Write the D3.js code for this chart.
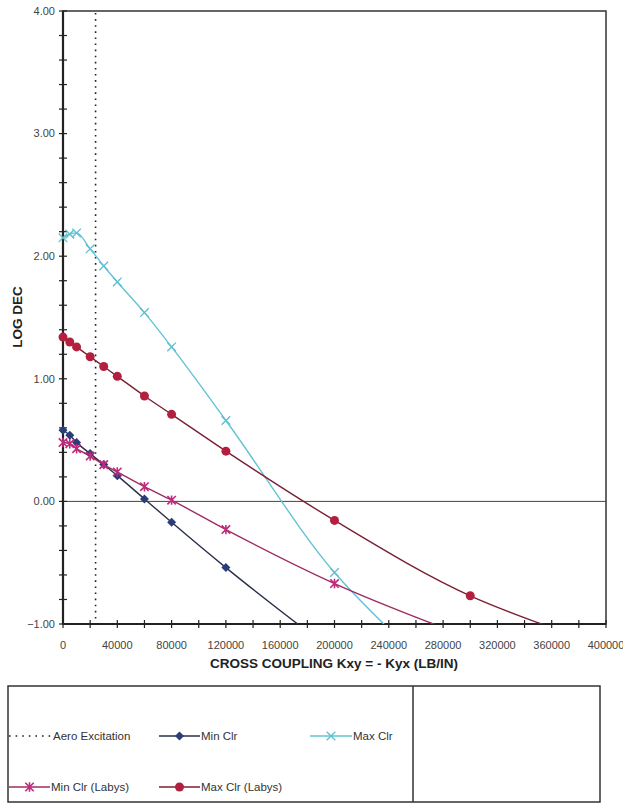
<!DOCTYPE html>
<html>
<head>
<meta charset="utf-8">
<script src="https://cdn.jsdelivr.net/npm/d3@7"></script>
<style>
  html, body { margin: 0; padding: 0; background: #fff; }
  svg { display: block; font-family: "Liberation Sans", Arial, sans-serif; }
</style>
</head>
<body>
<svg id="chart" width="623" height="804"></svg>
<script>
// ---- data ----
const aeroExcitationX = 24000;
const minClrX = [0, 5000, 10000, 20000, 30000, 40000, 60000, 80000, 120000, 200000];
const minClrY = [0.58, 0.54, 0.48, 0.39, 0.30, 0.21, 0.02, -0.17, -0.54, -1.23];
const maxClrX = [0, 5000, 10000, 20000, 30000, 40000, 60000, 80000, 120000, 200000, 240000];
const maxClrY = [2.15, 2.18, 2.19, 2.06, 1.92, 1.79, 1.54, 1.26, 0.66, -0.58, -1.04];
const minLabysX = [0, 5000, 10000, 20000, 30000, 40000, 60000, 80000, 120000, 200000, 280000];
const minLabysY = [0.48, 0.47, 0.43, 0.37, 0.30, 0.24, 0.12, 0.01, -0.23, -0.67, -1.03];
const maxLabysX = [0, 5000, 10000, 20000, 30000, 40000, 60000, 80000, 120000, 200000, 300000, 360000];
const maxLabysY = [1.34, 1.30, 1.26, 1.18, 1.10, 1.02, 0.86, 0.71, 0.41, -0.155, -0.77, -1.03];
const xTicks = [0, 40000, 80000, 120000, 160000, 200000, 240000, 280000, 320000, 360000, 400000];
const yTicks = [-1, 0, 1, 2, 3, 4];
const xTitle = "CROSS COUPLING Kxy = - Kyx (LB/IN)";
const yTitle = "LOG DEC";

const series = [
  {name: "Min Clr", xs: minClrX, ys: minClrY, line: "#2a2f48", mark: "#2b3d78", type: "diamond"},
  {name: "Max Clr", xs: maxClrX, ys: maxClrY, line: "#62c4d2", mark: "#5bbfd0", type: "x"},
  {name: "Min Clr (Labys)", xs: minLabysX, ys: minLabysY, line: "#9e2c62", mark: "#c2287c", type: "asterisk"},
  {name: "Max Clr (Labys)", xs: maxLabysX, ys: maxLabysY, line: "#7a2033", mark: "#b3203f", type: "circle"}
];

// ---- layout ----
const svg = d3.select("#chart");
const L = 63, R = 606, T = 11, B = 624;
const x = d3.scaleLinear().domain([0, 400000]).range([L, R]);
const y = d3.scaleLinear().domain([-1, 4]).range([B, T]);

svg.append("defs").append("clipPath").attr("id", "plotclip")
  .append("rect").attr("x", L).attr("y", T).attr("width", R - L).attr("height", B - T);

// plot frame (top/right)
svg.append("rect").attr("x", L).attr("y", T).attr("width", R - L).attr("height", B - T)
  .attr("fill", "none").attr("stroke", "#333").attr("stroke-width", 1.5);

// zero line
svg.append("line").attr("x1", L).attr("x2", R).attr("y1", y(0)).attr("y2", y(0))
  .attr("stroke", "#444").attr("stroke-width", 1);

// aero excitation dotted line
svg.append("line").attr("x1", x(aeroExcitationX)).attr("x2", x(aeroExcitationX))
  .attr("y1", T + 2).attr("y2", B)
  .attr("stroke", "#222").attr("stroke-width", 1.6).attr("stroke-dasharray", "1.6,4.5");

// axes
const yMinor = d3.range(-1, 4.0001, 0.2);
const xMinor = d3.range(0, 400001, 20000);
const yAxisG = svg.append("g");
yAxisG.selectAll("line.minor").data(yMinor).join("line")
  .attr("x1", L - 4).attr("x2", L + 4).attr("y1", d => y(d)).attr("y2", d => y(d))
  .attr("stroke", "#222").attr("stroke-width", 1.2);
yAxisG.append("line").attr("x1", L).attr("x2", L).attr("y1", T).attr("y2", B)
  .attr("stroke", "#222").attr("stroke-width", 2.2);
yAxisG.selectAll("text").data(yTicks).join("text")
  .attr("x", L - 8).attr("y", d => y(d)).attr("dy", "0.35em")
  .attr("text-anchor", "end").attr("font-size", 11).attr("fill", "#444")
  .text(d => d3.format(".2f")(d));

const xAxisG = svg.append("g");
xAxisG.selectAll("line.minor").data(xMinor).join("line")
  .attr("x1", d => x(d)).attr("x2", d => x(d)).attr("y1", B - 4).attr("y2", B + 4)
  .attr("stroke", "#222").attr("stroke-width", 1.2);
xAxisG.append("line").attr("x1", L).attr("x2", R).attr("y1", B).attr("y2", B)
  .attr("stroke", "#222").attr("stroke-width", 2.2);
xAxisG.selectAll("text").data(xTicks).join("text")
  .attr("x", d => x(d)).attr("y", 645).attr("dy", "0.35em")
  .attr("text-anchor", "middle").attr("font-size", 11).attr("fill", "#444")
  .text(d => d);

// titles
svg.append("text").attr("x", 334).attr("y", 663).attr("dy", "0.35em")
  .attr("text-anchor", "middle").attr("font-size", 13.5).attr("font-weight", "bold")
  .attr("fill", "#222").text(xTitle);
svg.append("text").attr("transform", "translate(17,317) rotate(-90)").attr("dy", "0.35em")
  .attr("text-anchor", "middle").attr("font-size", 13.5).attr("font-weight", "bold")
  .attr("fill", "#222").text(yTitle);

// marker drawing
function drawMarker(g, type, color, cx, cy) {
  if (type === "diamond") {
    const s = 4.5;
    g.append("path").attr("d", `M${cx},${cy-s}L${cx+s},${cy}L${cx},${cy+s}L${cx-s},${cy}Z`)
      .attr("fill", color);
  } else if (type === "circle") {
    g.append("circle").attr("cx", cx).attr("cy", cy).attr("r", 4.5).attr("fill", color);
  } else if (type === "x") {
    const s = 4.3;
    g.append("path").attr("d", `M${cx-s},${cy-s}L${cx+s},${cy+s}M${cx-s},${cy+s}L${cx+s},${cy-s}`)
      .attr("stroke", color).attr("stroke-width", 1.3).attr("fill", "none");
  } else if (type === "asterisk") {
    const s = 4.2;
    g.append("path").attr("d", `M${cx-s},${cy-s}L${cx+s},${cy+s}M${cx-s},${cy+s}L${cx+s},${cy-s}M${cx},${cy-s-0.5}L${cx},${cy+s+0.5}`)
      .attr("stroke", color).attr("stroke-width", 1.6).attr("fill", "none");
  }
}

// series
const lineGen = d3.line().x(d => x(d[0])).y(d => y(d[1])).curve(d3.curveMonotoneX);
const plotG = svg.append("g").attr("clip-path", "url(#plotclip)");
series.forEach(s => {
  const pts = s.xs.map((v, i) => [v, s.ys[i]]);
  plotG.append("path").datum(pts).attr("d", lineGen)
    .attr("fill", "none").attr("stroke", s.line).attr("stroke-width", 1.4);
});
const markG = svg.append("g");
series.forEach(s => {
  const g = markG.append("g");
  s.xs.forEach((v, i) => {
    if (s.ys[i] >= -1 && s.ys[i] <= 4) drawMarker(g, s.type, s.mark, x(v), y(s.ys[i]));
  });
});

// legend
const lg = svg.append("g");
lg.append("rect").attr("x", 8).attr("y", 686).attr("width", 592).attr("height", 116)
  .attr("fill", "none").attr("stroke", "#333").attr("stroke-width", 1.5);
lg.append("line").attr("x1", 413).attr("x2", 413).attr("y1", 686).attr("y2", 802)
  .attr("stroke", "#333").attr("stroke-width", 1.5);

const legendItems = [
  {name: "Aero Excitation", x0: 9, x1: 52, row: 736, dotted: true},
  {name: "Min Clr", x0: 159, x1: 200, row: 736, s: series[0]},
  {name: "Max Clr", x0: 310, x1: 352, row: 736, s: series[1]},
  {name: "Min Clr (Labys)", x0: 9, x1: 50, row: 787, s: series[2]},
  {name: "Max Clr (Labys)", x0: 159, x1: 200, row: 787, s: series[3]}
];
legendItems.forEach(it => {
  if (it.dotted) {
    lg.append("line").attr("x1", it.x0).attr("x2", it.x1).attr("y1", it.row).attr("y2", it.row)
      .attr("stroke", "#222").attr("stroke-width", 1.6).attr("stroke-dasharray", "1.6,5");
  } else {
    lg.append("line").attr("x1", it.x0).attr("x2", it.x1).attr("y1", it.row).attr("y2", it.row)
      .attr("stroke", it.s.line).attr("stroke-width", 1.4);
    drawMarker(lg, it.s.type, it.s.mark, (it.x0 + it.x1) / 2, it.row);
  }
  lg.append("text").attr("x", it.x1 + 1).attr("y", it.row).attr("dy", "0.35em")
    .attr("font-size", 11.5).attr("fill", "#333").text(it.name);
});
</script>
</body>
</html>
